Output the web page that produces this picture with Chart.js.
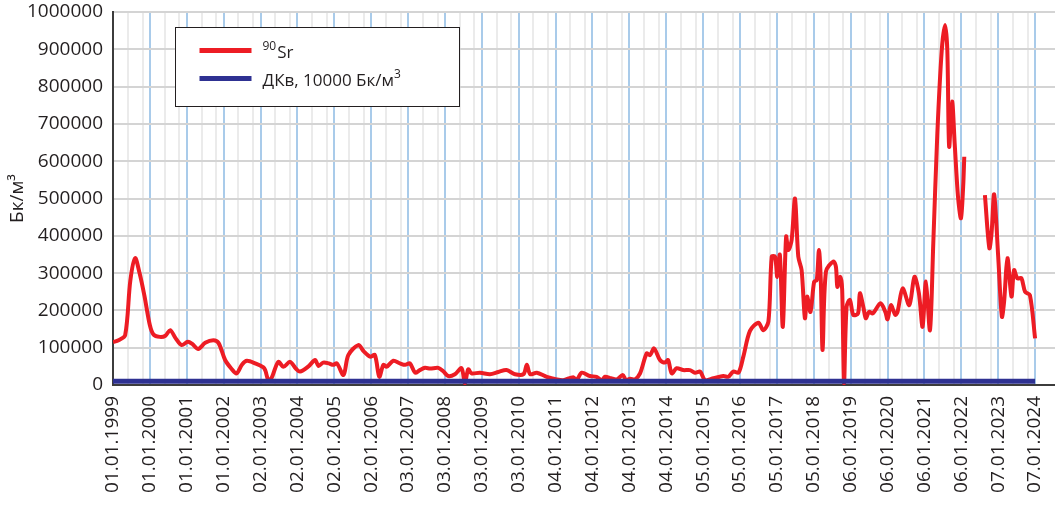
<!DOCTYPE html>
<html>
<head>
<meta charset="utf-8">
<script src="https://cdn.jsdelivr.net/npm/chart.js@4/dist/chart.umd.min.js"></script>
<style>
  html, body { margin: 0; padding: 0; background: #ffffff; }
  #wrap { width: 1055px; height: 506px; position: relative; }
</style>
</head>
<body>
<div id="wrap"><canvas id="chart"></canvas></div>
<script>
// Date labels of the yearly ticks
const tickLabels = [
  '01.01.1999', '01.01.2000', '01.01.2001', '01.01.2002', '02.01.2003',
  '02.01.2004', '02.01.2005', '02.01.2006', '03.01.2007', '03.01.2008',
  '03.01.2009', '03.01.2010', '04.01.2011', '04.01.2012', '04.01.2013',
  '04.01.2014', '05.01.2015', '05.01.2016', '05.01.2017', '05.01.2018',
  '06.01.2019', '06.01.2020', '06.01.2021', '06.01.2022', '07.01.2023',
  '07.01.2024'
];
const firstYear = 1999;

// 90Sr volumetric activity, Bq/m3 (time in decimal years; null = no sampling)
const sr90Years = [
  1999.00, 1999.15, 1999.33, 1999.47, 1999.60, 1999.72, 1999.85, 2000.00, 2000.10, 2000.27,
  2000.42, 2000.55, 2000.70, 2000.86, 2001.03, 2001.15, 2001.31, 2001.50, 2001.72, 2001.86,
  2002.04, 2002.20, 2002.35, 2002.50, 2002.63, 2002.85, 2003.10, 2003.21, 2003.30, 2003.48,
  2003.62, 2003.80, 2003.95, 2004.07, 2004.30, 2004.48, 2004.57, 2004.70, 2004.85, 2004.97,
  2005.07, 2005.25, 2005.38, 2005.65, 2005.80, 2005.97, 2006.10, 2006.22, 2006.33, 2006.42,
  2006.60, 2006.78, 2006.92, 2007.05, 2007.19, 2007.32, 2007.46, 2007.60, 2007.82, 2007.96,
  2008.09, 2008.27, 2008.45, 2008.54, 2008.63, 2008.72, 2008.95, 2009.22, 2009.45, 2009.67,
  2009.90, 2010.13, 2010.22, 2010.31, 2010.49, 2010.76, 2011.03, 2011.21, 2011.48, 2011.57,
  2011.71, 2011.93, 2012.11, 2012.25, 2012.34, 2012.50, 2012.66, 2012.82, 2012.91, 2013.02,
  2013.15, 2013.29, 2013.47, 2013.56, 2013.67, 2013.83, 2013.97, 2014.05, 2014.15, 2014.28,
  2014.46, 2014.64, 2014.78, 2014.92, 2015.05, 2015.28, 2015.55, 2015.68, 2015.82, 2015.96,
  2016.09, 2016.27, 2016.50, 2016.63, 2016.77, 2016.86, 2016.95, 2017.01, 2017.08, 2017.16,
  2017.25, 2017.31, 2017.40, 2017.49, 2017.58, 2017.67, 2017.76, 2017.82, 2017.91, 2018.01,
  2018.08, 2018.14, 2018.19, 2018.24, 2018.33, 2018.53, 2018.60, 2018.64, 2018.72, 2018.77,
  2018.82, 2018.89, 2018.98, 2019.07, 2019.20, 2019.25, 2019.35, 2019.41, 2019.50, 2019.60,
  2019.81, 2019.94, 2020.00, 2020.09, 2020.21, 2020.27, 2020.41, 2020.59, 2020.73, 2020.85,
  2020.95, 2021.04, 2021.15, 2021.24, 2021.35, 2021.47, 2021.56, 2021.62, 2021.67, 2021.75,
  2021.82, 2021.91, 2021.99, 2022.05, 2022.08, 2022.35, 2022.64, 2022.76, 2022.82, 2022.89,
  2023.00, 2023.10, 2023.16, 2023.25, 2023.36, 2023.43, 2023.52, 2023.63, 2023.73, 2023.86,
  2024.00
];
const sr90Values = [
  115000, 120000, 134000, 280000, 340000, 300000, 240000, 160000, 135000, 129000,
  132000, 147000, 125000, 107000, 116000, 110000, 96500, 113000, 120000, 113000,
  67000, 45000, 31000, 55000, 65000, 58000, 45000, 13000, 19000, 62000,
  49000, 62000, 45000, 36000, 50000, 67000, 51000, 60000, 58000, 54000,
  58000, 27000, 80000, 107000, 90000, 76000, 80000, 22000, 54000, 49000,
  65000, 58000, 54000, 58000, 33000, 40000, 46000, 44000, 46000, 36000,
  24000, 29000, 45000, 4500, 42000, 31000, 33000, 29000, 35000, 40000,
  29000, 29000, 54000, 29000, 33000, 22000, 15000, 13000, 21000, 13000,
  33000, 24000, 22000, 13000, 22000, 18000, 15000, 27000, 13000, 17000,
  15000, 31000, 85000, 80000, 98000, 67000, 60000, 67000, 31000, 45000,
  40000, 40000, 33000, 36000, 13000, 18000, 24000, 22000, 36000, 33000,
  76000, 145000, 167000, 147000, 170000, 344000, 344000, 290000, 349000, 156000,
  398000, 362000, 389000, 500000, 344000, 308000, 179000, 237000, 196000, 277000,
  281000, 362000, 281000, 94000, 304000, 331000, 317000, 263000, 290000, 255000,
  5000, 210000, 228000, 188000, 192000, 246000, 206000, 179000, 196000, 192000,
  219000, 196000, 176000, 214000, 188000, 196000, 259000, 214000, 290000, 246000,
  156000, 277000, 147000, 380000, 675000, 898000, 965000, 898000, 639000, 760000,
  648000, 505000, 447000, 532000, 612000, null, 509000, 367000, 407000, 511000,
  344000, 183000, 223000, 340000, 237000, 308000, 286000, 286000, 250000, 241000,
  125000
];

// Permissible concentration (ДКв) level, Bq/m3
const dkvYears = [1999, 2024];
const dkvValues = [10000, 10000];

// Minor vertical grid positions inside each year
const minorOffsets = [0.4, 0.8];

// Legend captions: text runs, superscripts flagged
const legendCaptions = [
  [{ t: '90', sup: true }, { t: 'Sr' }],
  [{ t: 'ДКв, 10000 Бк/м' }, { t: '3', sup: true }]
];

const FONT = '"Open Sans", "DejaVu Sans", sans-serif';
const RED = '#ed1c24';
const NAVY = '#2e3192';

const toPoints = (xs, ys) => xs.map((x, i) => ({ x: x, y: ys[i] }));
const isMajor = v => Math.abs(v - Math.round(v)) < 1e-6;

// Boxed legend with superscript-capable captions
const legendBox = {
  id: 'legendBox',
  afterDraw(chart) {
    const { ctx, chartArea } = chart;
    const x = Math.round(chartArea.left + 62) + 0.5;
    const y = Math.round(chartArea.top + 15) + 0.5;
    const w = 284, h = 79;
    ctx.save();
    ctx.fillStyle = '#ffffff';
    ctx.fillRect(x, y, w, h);
    ctx.strokeStyle = '#231f20';
    ctx.lineWidth = 1;
    ctx.strokeRect(x, y, w, h);
    chart.data.datasets.forEach((ds, i) => {
      const cy = y + 23 + i * 28;
      ctx.strokeStyle = ds.borderColor;
      ctx.lineWidth = 5;
      ctx.lineCap = 'butt';
      ctx.beginPath();
      ctx.moveTo(x + 24, cy);
      ctx.lineTo(x + 76, cy);
      ctx.stroke();
      let tx = x + 87;
      ctx.fillStyle = '#231f20';
      ctx.textBaseline = 'alphabetic';
      legendCaptions[i].forEach(run => {
        ctx.font = (run.sup ? '12px ' : '17px ') + FONT;
        ctx.fillText(run.t, tx, cy + (run.sup ? -1 : 7));
        tx += ctx.measureText(run.t).width + (run.sup ? 1 : 0);
      });
    });
    ctx.restore();
  }
};

new Chart(document.getElementById('chart'), {
  type: 'line',
  data: {
    datasets: [
      {
        label: '90Sr',
        data: toPoints(sr90Years, sr90Values),
        borderColor: RED,
        backgroundColor: RED,
        borderWidth: 4,
        pointRadius: 0,
        tension: 0.3,
        spanGaps: false,
        order: 2
      },
      {
        label: 'ДКв, 10000 Бк/м3',
        data: toPoints(dkvYears, dkvValues),
        borderColor: NAVY,
        backgroundColor: NAVY,
        borderWidth: 5,
        pointRadius: 0,
        tension: 0,
        order: 1
      }
    ]
  },
  options: {
    responsive: true,
    maintainAspectRatio: false,
    animation: false,
    events: [],
    layout: { padding: { top: 12, right: 0, bottom: 0, left: 0 } },
    plugins: { legend: { display: false }, tooltip: { enabled: false } },
    scales: {
      x: {
        type: 'linear',
        min: firstYear,
        max: firstYear + tickLabels.length - 1 + 0.54,
        afterBuildTicks(scale) {
          const ticks = [];
          tickLabels.forEach((_, i) => {
            ticks.push({ value: firstYear + i });
            if (i < tickLabels.length - 1) {
              minorOffsets.forEach(o => ticks.push({ value: firstYear + i + o }));
            }
          });
          scale.ticks = ticks;
        },
        afterFit(scale) {
          scale.height = 121;
          scale.paddingLeft = 0; scale.paddingRight = 0;
          scale.paddingTop = 0; scale.paddingBottom = 0;
        },
        ticks: {
          autoSkip: false,
          minRotation: 90,
          maxRotation: 90,
          padding: 11,
          color: '#231f20',
          font: { family: FONT, size: 19 },
          callback: v => isMajor(v) ? tickLabels[Math.round(v) - firstYear] : ''
        },
        grid: {
          drawTicks: false,
          lineWidth: 2,
          color: ctx => (ctx.tick && isMajor(ctx.tick.value)) ? '#a9cbea' : '#ebebeb'
        },
        border: { color: '#3c3c3c', width: 2 }
      },
      y: {
        min: 0,
        max: 1000000,
        afterFit(scale) {
          scale.width = 113;
          scale.paddingLeft = 0; scale.paddingRight = 0;
          scale.paddingTop = 0; scale.paddingBottom = 0;
        },
        ticks: {
          stepSize: 100000,
          padding: 10,
          color: '#231f20',
          font: { family: FONT, size: 19 },
          callback: v => String(v)
        },
        grid: { drawTicks: false, lineWidth: 2, color: '#d4d4d4' },
        border: { color: '#3c3c3c', width: 2 },
        title: {
          display: true,
          text: 'Бк/м³',
          color: '#231f20',
          font: { family: FONT, size: 19 },
          padding: { top: 6, bottom: 0 }
        }
      }
    }
  },
  plugins: [legendBox]
});
</script>
</body>
</html>
